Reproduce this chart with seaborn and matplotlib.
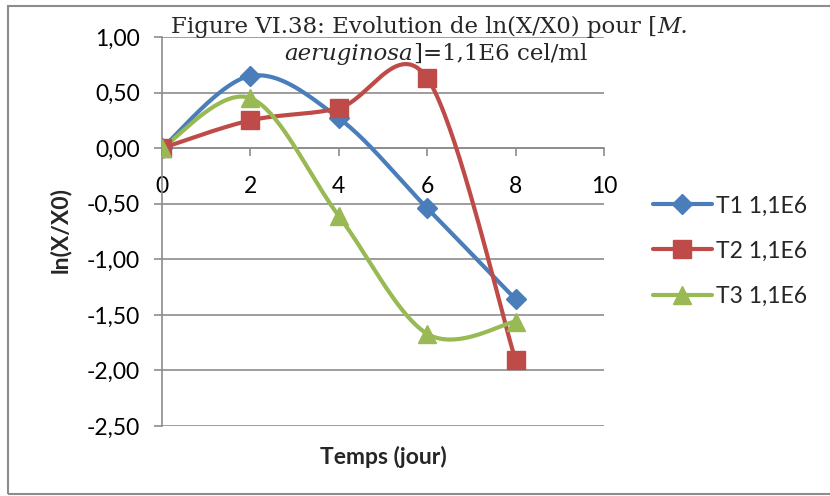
import numpy as np
import matplotlib
matplotlib.use("Agg")
import matplotlib.pyplot as plt
import seaborn as sns
from matplotlib.lines import Line2D
from matplotlib.patches import Rectangle

# data
temps = [0, 2, 4, 6, 8]
t1 = [0.00, 0.65, 0.27, -0.54, -1.36]
t2 = [0.00, 0.25, 0.36, 0.63, -1.91]
t3 = [0.00, 0.45, -0.61, -1.67, -1.56]
series_names = ["T1 1,1E6", "T2 1,1E6", "T3 1,1E6"]
colors = ["#4A7EBB", "#BE4B48", "#98B954"]
markers = ["D", "s", "^"]
msizes = [10.5, 13, 13]


def smooth(x, y, n=40):
    # Excel-like smoothed line (Catmull-Rom bezier)
    p = np.column_stack([x, y]).astype(float)
    pts = np.vstack([p[0], p, p[-1]])
    out = []
    t = np.linspace(0, 1, n)[:, None]
    for i in range(1, len(pts) - 2):
        p0, p3 = pts[i], pts[i + 1]
        c1 = p0 + (pts[i + 1] - pts[i - 1]) / 6
        c2 = p3 - (pts[i + 2] - pts[i]) / 6
        seg = (1 - t) ** 3 * p0 + 3 * (1 - t) ** 2 * t * c1 + 3 * (1 - t) * t ** 2 * c2 + t ** 3 * p3
        out.append(seg)
    out = np.vstack(out)
    return out[:, 0], out[:, 1]


sns.set_theme(style="white")
plt.rcParams['font.family'] = ['Lato', 'DejaVu Sans']
fs = 16.5

fig = plt.figure(figsize=(8.3, 4.96), dpi=100)
ax = fig.add_axes([162 / 830, 1 - 426 / 496, (604 - 162) / 830, (426 - 37) / 496])

for ys, name, c, m, ms in zip([t1, t2, t3], series_names, colors, markers, msizes):
    sx, sy = smooth(temps, ys)
    sns.lineplot(x=sx, y=sy, ax=ax, color=c, linewidth=3, sort=False, zorder=3)
    ax.plot(temps, ys, linestyle="none", marker=m, markersize=ms, color=c, zorder=4)

# axes cross at y = 0 (do this before tick settings, it resets ticks)
for s in ["top", "right"]:
    ax.spines[s].set_visible(False)
ax.spines["bottom"].set_position(("data", 0))
for s in ["bottom", "left"]:
    ax.spines[s].set_color("#8C8C8C")
    ax.spines[s].set_linewidth(1.2)

ax.set_xlim(0, 10)
ax.set_ylim(-2.5, 1.0)
yt = np.arange(-2.5, 1.01, 0.5)
ax.set_xticks([0, 2, 4, 6, 8, 10])
ax.set_yticks(yt)
ax.set_yticklabels([f"{v:.2f}".replace(".", ",") for v in yt])
ax.set_xticklabels([str(v) for v in [0, 2, 4, 6, 8, 10]])
ax.yaxis.grid(True, color="#8C8C8C", linewidth=1.2)
ax.set_axisbelow(True)

ax.tick_params(axis="both", which="both", direction="out", length=6, width=1.2,
               color="#8C8C8C", bottom=True, left=True, labelcolor="black", labelsize=fs)
ax.tick_params(axis="y", pad=10)
ax.tick_params(axis="x", pad=14)

ax.set_xlabel("Temps (jour)", fontsize=fs, fontweight="bold")
ax.set_ylabel("ln(X/X0)", fontsize=fs, fontweight="bold")
ax.xaxis.set_label_coords(0.5, -0.05)
ax.yaxis.set_label_coords(-0.205, 0.504)

handles = [Line2D([0], [0], color=c, marker=m, markersize=ms, linewidth=3)
           for c, m, ms in zip(colors, markers, msizes)]
fig.legend(handles, series_names, loc="center left", bbox_to_anchor=(632 / 830, 1 - 251 / 496),
           frameon=False, fontsize=fs, handlelength=2.6, labelspacing=1.05, handletextpad=0.15)

# title, mixed upright / italic
serif = "DejaVu Serif"
tfs = 16.5
fig.canvas.draw()
r = fig.canvas.get_renderer()
a = fig.text(0, 1 - 33 / 496, "Figure VI.38: Evolution de ln(X/X0) pour [", family=serif, fontsize=tfs, va="baseline")
b = fig.text(0, 1 - 33 / 496, "M.", family=serif, fontsize=tfs, style="italic", va="baseline")
wa = a.get_window_extent(r).width
wb = b.get_window_extent(r).width
x0 = 429 - (wa + wb) / 2
a.set_x(x0 / 830)
b.set_x((x0 + wa + 1) / 830)

c1 = fig.text(0, 1 - 60 / 496, "aeruginosa", family=serif, fontsize=tfs, style="italic", va="baseline")
c2 = fig.text(0, 1 - 60 / 496, "]=1,1E6 cel/ml", family=serif, fontsize=tfs, va="baseline")
w1 = c1.get_window_extent(r).width
w2 = c2.get_window_extent(r).width
x1 = 435 - (w1 + w2) / 2
c1.set_x(x1 / 830)
c2.set_x((x1 + w1 + 1) / 830)

# outer chart border
fig.add_artist(Rectangle((8 / 830, 2 / 496), 1.2, 488 / 496, transform=fig.transFigure,
                         fill=False, edgecolor="#8C8C8C", linewidth=1.5))

fig.savefig("out.png", dpi=100)
